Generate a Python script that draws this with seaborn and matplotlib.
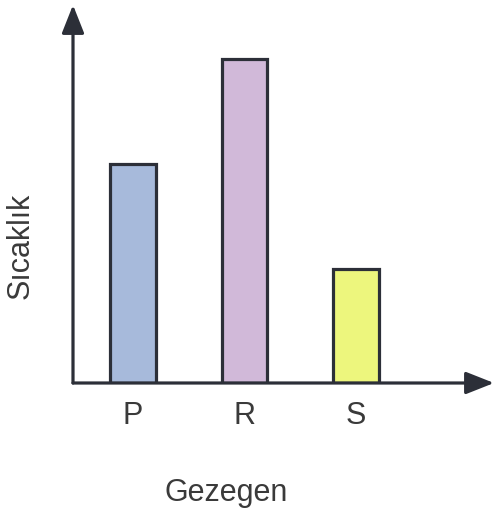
import matplotlib
matplotlib.use("Agg")
import matplotlib.pyplot as plt
import seaborn as sns
import pandas as pd

# bar heights (no scale shown, arbitrary units)
planets = ["P", "R", "S"]
temps = [219, 324, 114]
bar_colors = ["#a7badb", "#d1b9d9", "#edf67d"]

AXIS_COLOR = "#2c2f38"
TEXT_COLOR = "#3a3a3a"

sns.set_style("white")
plt.rcParams["font.family"] = ["Liberation Sans", "DejaVu Sans"]

df = pd.DataFrame({"Gezegen": planets, "Sicaklik": temps})

fig = plt.figure(figsize=(4.96, 5.18), dpi=100)
ax = fig.add_axes([73 / 496, 1 - 383 / 518, 421 / 496, 378 / 518])

sns.barplot(data=df, x="Gezegen", y="Sicaklik", hue="Gezegen",
            palette=bar_colors, saturation=1, legend=False, width=0.41,
            edgecolor=AXIS_COLOR, linewidth=2.3, ax=ax)

ax.set_xlim(-0.538, 3.238)
ax.set_ylim(0, 378)
for s in ax.spines.values():
    s.set_visible(False)

# axes drawn as arrows
arrow = dict(arrowstyle="-|>,head_length=0.48,head_width=0.19", lw=2.3,
             color=AXIS_COLOR, mutation_scale=36, shrinkA=0, shrinkB=0)
ax.annotate("", xy=(1, 0), xytext=(0, 0), xycoords="axes fraction",
            arrowprops=arrow, annotation_clip=False)
ax.annotate("", xy=(0, 1), xytext=(0, 0), xycoords="axes fraction",
            arrowprops=arrow, annotation_clip=False)

ax.set_yticks([])
ax.tick_params(axis="x", length=0, pad=13, labelsize=22, labelcolor=TEXT_COLOR)

ax.set_xlabel("Gezegen", fontsize=22, color=TEXT_COLOR, va="center")
ax.xaxis.set_label_coords(0.363, -0.291)
ax.set_ylabel("Sıcaklık", fontsize=22, color=TEXT_COLOR, va="center")
ax.yaxis.set_label_coords(-0.1235, 0.362)

fig.savefig("out.png", dpi=100)
